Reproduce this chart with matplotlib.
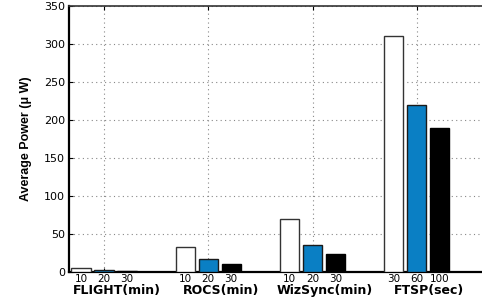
import matplotlib
matplotlib.use("Agg")
import matplotlib.pyplot as plt
import numpy as np

groups = ["FLIGHT(min)", "ROCS(min)", "WizSync(min)", "FTSP(sec)"]
sub_labels = [["10", "20", "30"], ["10", "20", "30"], ["10", "20", "30"], ["30", "60", "100"]]
series1 = [5, 33, 70, 310]     # white
series2 = [2.5, 17, 35, 220]   # blue
series3 = [1.5, 11, 24, 190]   # black
yticks = [0, 50, 100, 150, 200, 250, 300, 350]

fig = plt.figure(figsize=(4.82, 3.06), dpi=100)
ax = fig.add_axes([69/482, 34/306, 417/482, 266/306])

x = np.arange(1, len(groups) + 1)
off = 0.22
w = 0.185
colors = ["white", "#0a7fc4", "black"]
edges = ["#333333", "#1a1a1a", "black"]
for i, (vals, c, e) in enumerate(zip([series1, series2, series3], colors, edges)):
    ax.bar(x + (i - 1) * off, vals, width=w, color=c, edgecolor=e, linewidth=1.0, zorder=3)

ax.set_xlim(0.664, 4.664)
ax.set_ylim(0, 350)
ax.set_yticks(yticks)
ax.set_yticklabels([str(v) for v in yticks], fontsize=8, family="DejaVu Sans")
ax.set_xticks(x)
ax.set_xticklabels([])
ax.tick_params(axis="both", direction="in", length=3, width=0.8, top=True, right=True)
ax.tick_params(axis="y", pad=3)
ax.grid(True, linestyle=(0, (1, 3)), color="#888888", linewidth=0.8, zorder=0)

for sp in ["left", "bottom"]:
    ax.spines[sp].set_linewidth(1.6)
    ax.spines[sp].set_color("black")
ax.spines["top"].set_linewidth(1.2)
ax.spines["top"].set_color("#333333")

for gi, gx in enumerate(x):
    for si in range(3):
        ax.text(gx + (si - 1) * off, -3, sub_labels[gi][si], ha="center", va="top",
                fontsize=7.5, family="DejaVu Sans", transform=ax.transData)
    ax.text(gx + 0.12, -16, groups[gi], ha="center", va="top", fontsize=9,
            fontweight="bold", family="DejaVu Sans", transform=ax.transData)

ax.set_ylabel("Average Power (\u03bc W)", fontsize=9, family="Liberation Sans",
              fontweight="bold")
ax.yaxis.set_label_coords(-0.088, 0.5)

fig.savefig("out.png", dpi=100)
